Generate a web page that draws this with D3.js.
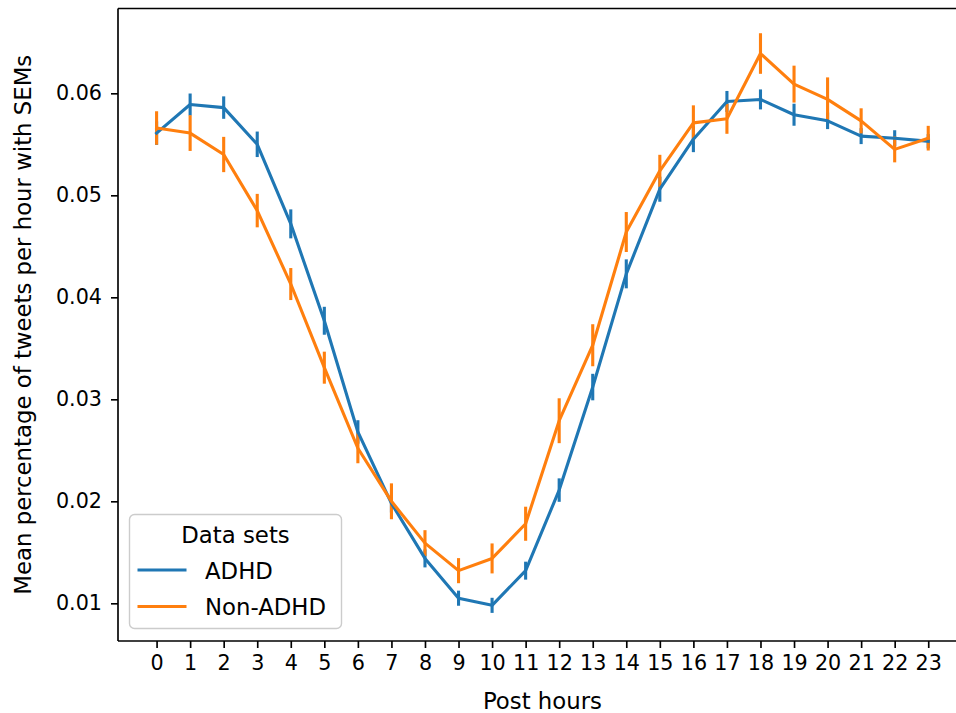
<!DOCTYPE html>
<html>
<head>
<meta charset="utf-8">
<script src="https://cdn.jsdelivr.net/npm/d3@7"></script>
<style>
  html, body { margin: 0; padding: 0; background: #fff; }
  svg { display: block; font-family: "DejaVu Sans", sans-serif; }
</style>
</head>
<body>
<svg id="chart" width="956" height="713"></svg>
<script>
// ---- data ----
const hours = [0,1,2,3,4,5,6,7,8,9,10,11,12,13,14,15,16,17,18,19,20,21,22,23];
const adhdMean = [0.0561,0.0589,0.0586,0.0550,0.0472,0.0377,0.0268,0.0198,0.0144,0.0105,0.0098,0.0132,
                  0.0211,0.0312,0.0423,0.0506,0.0555,0.0592,0.0594,0.0579,0.0573,0.0558,0.0556,0.0553];
const adhdSem = [0.00115,0.00108,0.00110,0.00125,0.00142,0.00137,0.00115,0.00090,0.00088,0.00074,0.00074,0.00088,
                 0.00115,0.00130,0.00142,0.00123,0.00127,0.00103,0.00098,0.00108,0.00081,0.00078,0.00078,0.00070];
const nonMean = [0.0566,0.0561,0.0540,0.0485,0.0413,0.0331,0.0252,0.0200,0.0159,0.0132,0.0144,0.0178,
                 0.0279,0.0353,0.0464,0.0524,0.0571,0.0575,0.0639,0.0609,0.0594,0.0573,0.0545,0.0556];
const nonSem = [0.00164,0.00175,0.00173,0.00164,0.00157,0.00157,0.00147,0.00176,0.00127,0.00123,0.00147,0.00167,
                0.00220,0.00206,0.00196,0.00157,0.00172,0.00147,0.00199,0.00181,0.00216,0.00123,0.00127,0.00121];
const seriesNames = ["ADHD", "Non-ADHD"];
const seriesColors = ["#1f77b4", "#ff7f0e"];
const yTicks = [0.01, 0.02, 0.03, 0.04, 0.05, 0.06];
const xLabel = "Post hours";
const yLabel = "Mean percentage of tweets per hour with SEMs";
const legendTitle = "Data sets";
const xDomain = [-1.15, 24.15];
const yDomain = [0.006304, 0.068314];

// ---- layout ----
const svg = d3.select("#chart");
const L = 118, T = 8.5, B = 641, R = 118 + 25.3 * 33.55;
const x = d3.scaleLinear().domain(xDomain).range([L, R]);
const y = d3.scaleLinear().domain(yDomain).range([B, T]);

const series = [
  { name: seriesNames[0], color: seriesColors[0], mean: adhdMean, sem: adhdSem },
  { name: seriesNames[1], color: seriesColors[1], mean: nonMean, sem: nonSem }
];

const plot = svg.append("g");
const line = d3.line().x((d, i) => x(hours[i])).y(d => y(d));

// error bars (drawn beneath lines, like matplotlib zorder)
series.forEach(s => {
  plot.append("g").selectAll("line").data(hours).join("line")
    .attr("x1", h => x(h)).attr("x2", h => x(h))
    .attr("y1", (h, i) => y(s.mean[i] - s.sem[i]))
    .attr("y2", (h, i) => y(s.mean[i] + s.sem[i]))
    .attr("stroke", s.color).attr("stroke-width", 3.1);
});
series.forEach(s => {
  plot.append("path").datum(s.mean)
    .attr("d", line).attr("fill", "none")
    .attr("stroke", s.color).attr("stroke-width", 3.1)
    .attr("stroke-linejoin", "round").attr("stroke-linecap", "square");
});

// ---- axes ----
const xAxis = d3.axisBottom(x).tickValues(hours).tickFormat(d3.format("d"))
  .tickSize(7).tickPadding(7).tickSizeOuter(0);
const gx = svg.append("g").attr("transform", `translate(0,${B})`).call(xAxis);
gx.select(".domain").remove();
gx.selectAll(".tick line").attr("stroke", "#000").attr("stroke-width", 1.66);
gx.selectAll(".tick text").attr("font-size", "20.7px").attr("fill", "#000")
  .attr("font-family", "DejaVu Sans").attr("dy", "0.72em");

const yAxis = d3.axisLeft(y).tickValues(yTicks).tickFormat(d3.format(".2f"))
  .tickSize(7).tickPadding(9).tickSizeOuter(0);
const gy = svg.append("g").attr("transform", `translate(${L},0)`).call(yAxis);
gy.select(".domain").remove();
gy.selectAll(".tick line").attr("stroke", "#000").attr("stroke-width", 1.66);
gy.selectAll(".tick text").attr("font-size", "20.7px").attr("fill", "#000")
  .attr("font-family", "DejaVu Sans");

// spines
const spines = svg.append("g").attr("stroke", "#000").attr("stroke-width", 1.66).attr("fill", "none");
spines.append("line").attr("x1", L).attr("x2", L).attr("y1", T).attr("y2", B);
spines.append("line").attr("x1", L).attr("x2", R).attr("y1", B).attr("y2", B);
spines.append("line").attr("x1", L).attr("x2", R).attr("y1", T).attr("y2", T);
spines.append("line").attr("x1", R).attr("x2", R).attr("y1", T).attr("y2", B);

// axis labels
svg.append("text").attr("x", (L + R) / 2).attr("y", 708.5)
  .attr("text-anchor", "middle").attr("font-size", "22.8px").attr("fill", "#000")
  .text(xLabel);
svg.append("text")
  .attr("transform", `translate(31,${(T + B) / 2}) rotate(-90)`)
  .attr("text-anchor", "middle").attr("font-size", "22.8px").attr("fill", "#000")
  .text(yLabel);

// ---- legend ----
const lg = svg.append("g");
lg.append("rect").attr("x", 129.5).attr("y", 514.5).attr("width", 212).attr("height", 114)
  .attr("rx", 5).attr("fill", "#fff").attr("fill-opacity", 0.8)
  .attr("stroke", "#cccccc").attr("stroke-width", 1.4);
lg.append("text").attr("x", 235.5).attr("y", 543.3).attr("text-anchor", "middle")
  .attr("font-size", "22.8px").attr("fill", "#000").text(legendTitle);
series.forEach((s, i) => {
  const yy = 570 + i * 36.5;
  lg.append("line").attr("x1", 137.5).attr("x2", 186.5).attr("y1", yy).attr("y2", yy)
    .attr("stroke", s.color).attr("stroke-width", 3.1);
  lg.append("text").attr("x", 205).attr("y", yy + 8.5)
    .attr("font-size", "22.8px").attr("fill", "#000").text(s.name);
});
</script>
</body>
</html>
